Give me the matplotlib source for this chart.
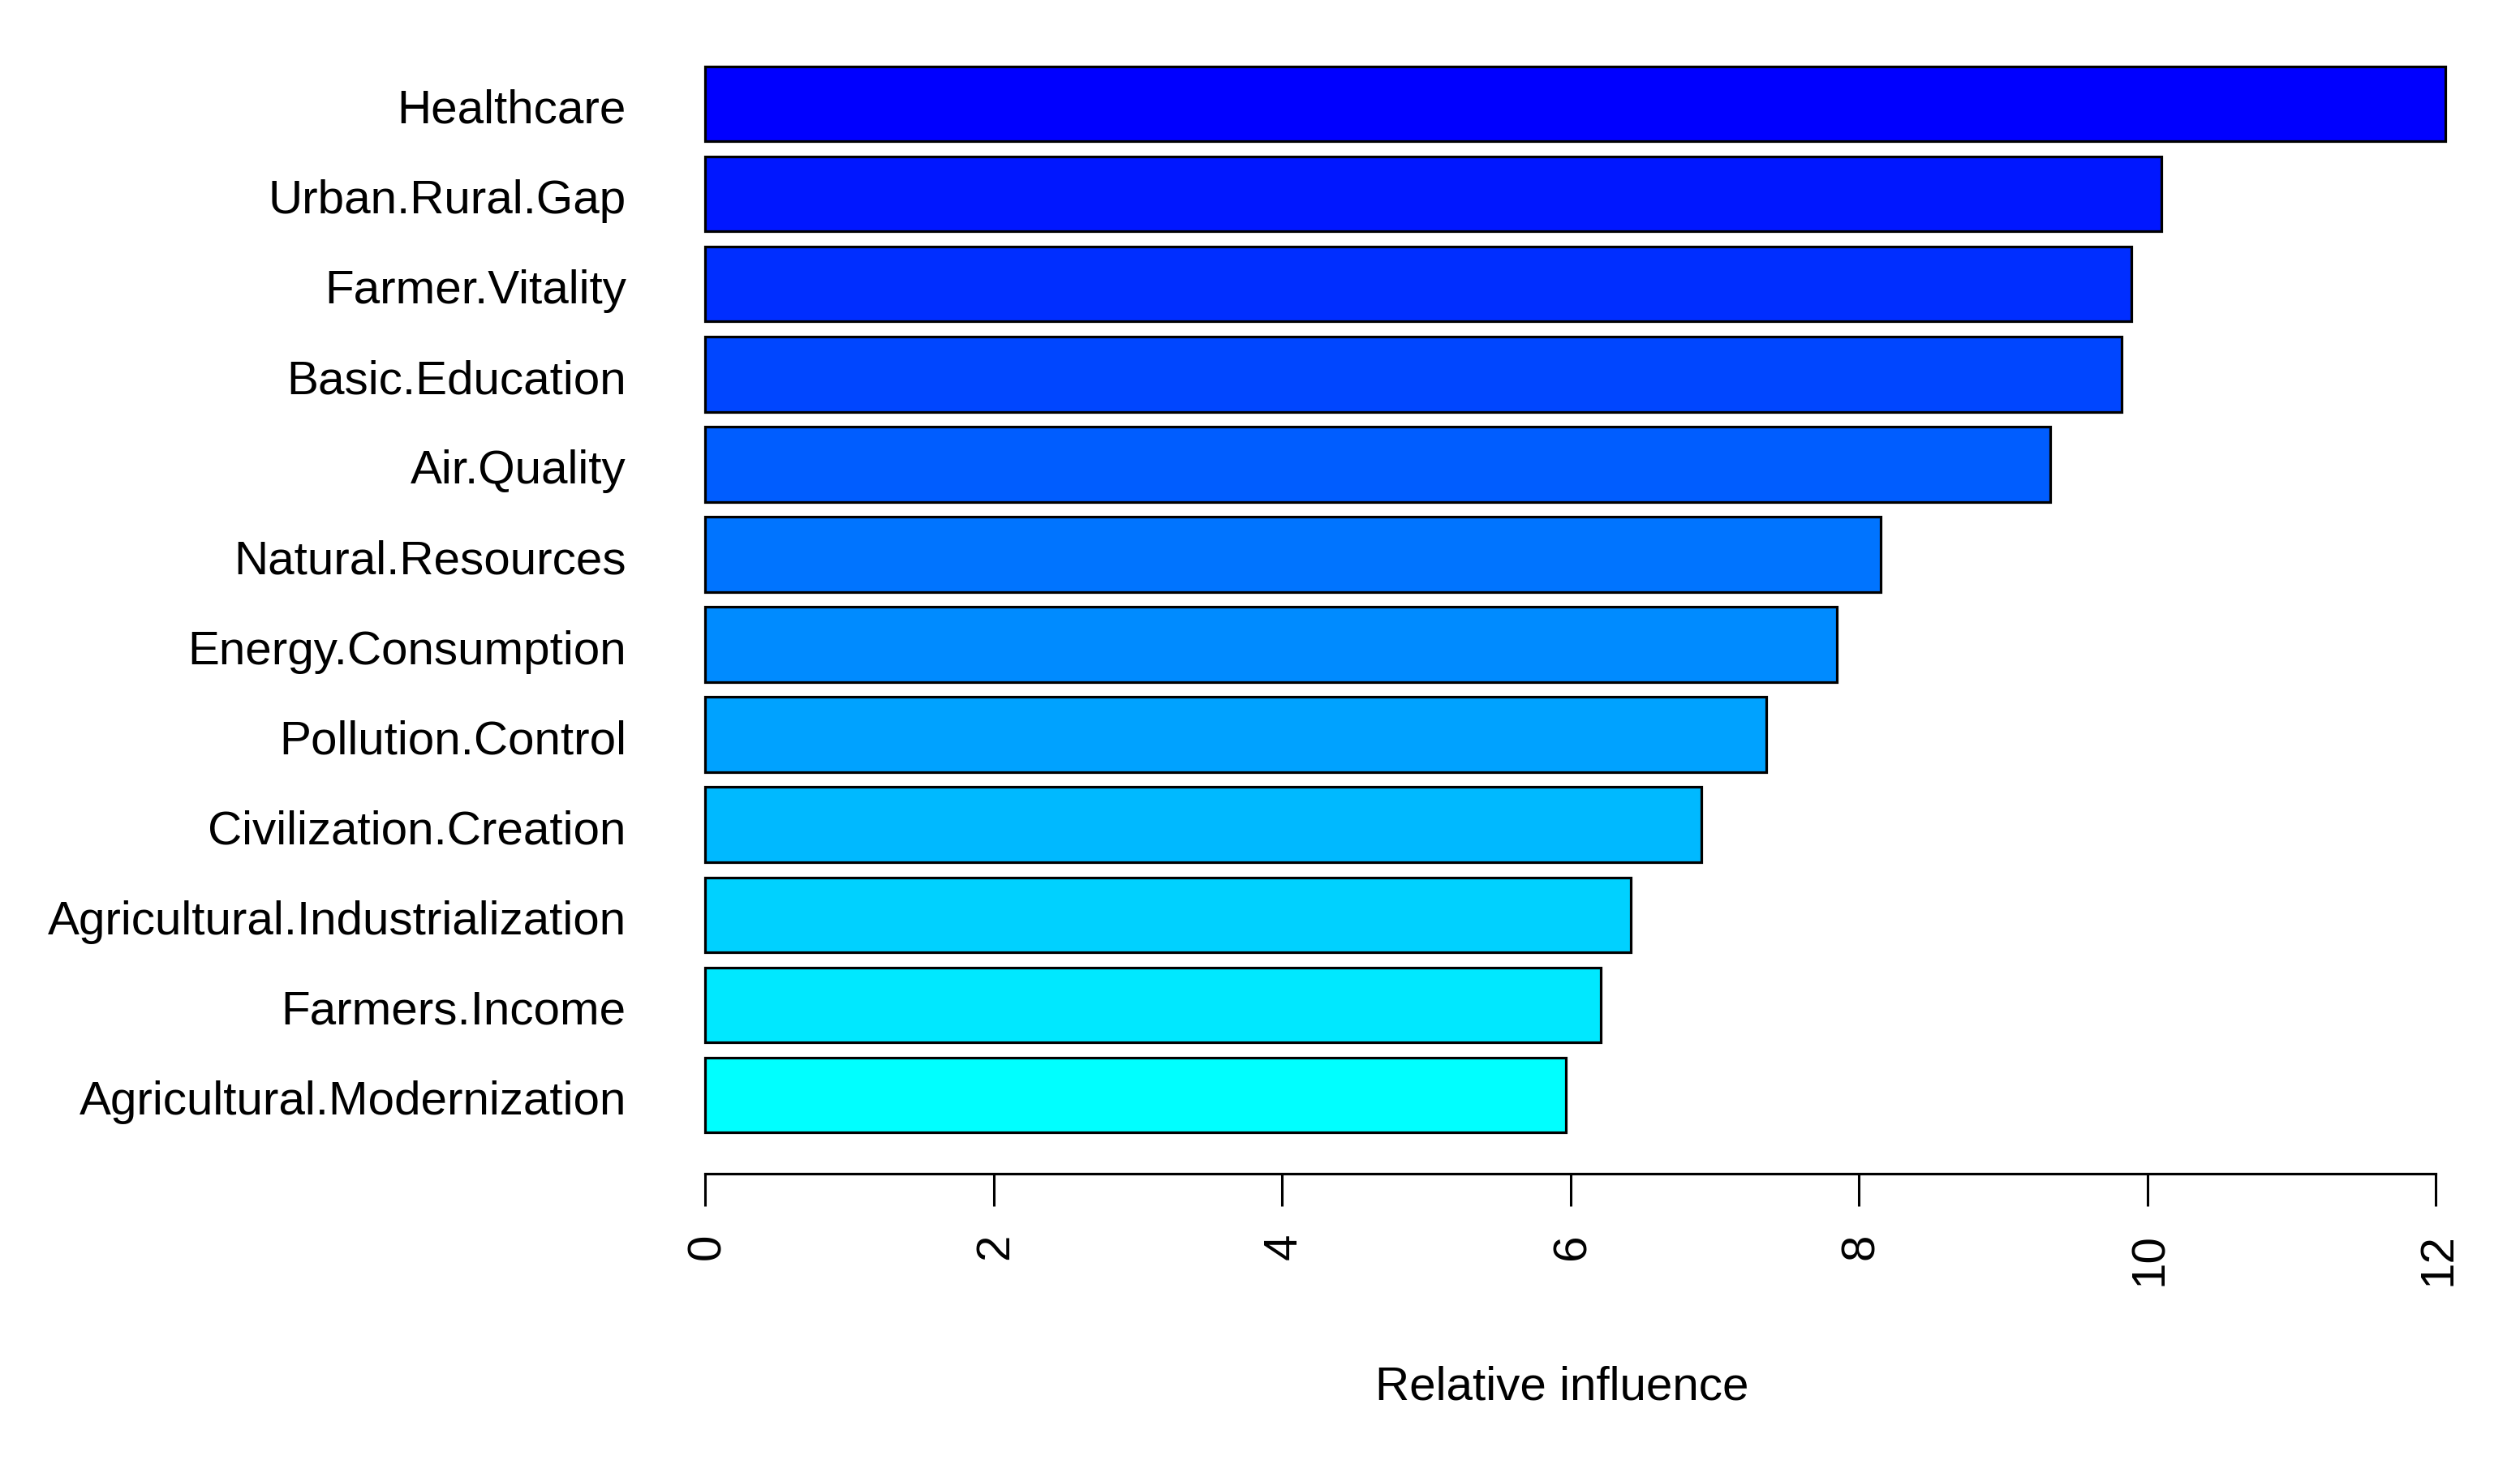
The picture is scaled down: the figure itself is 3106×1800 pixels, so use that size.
import colorsys
import matplotlib
matplotlib.use("Agg")
import matplotlib.pyplot as plt
import matplotlib.transforms as mtransforms
from matplotlib.ticker import FixedLocator

# Data (top to bottom as displayed)
categories = ["Healthcare", "Urban.Rural.Gap", "Farmer.Vitality", "Basic.Education",
              "Air.Quality", "Natural.Resources", "Energy.Consumption", "Pollution.Control",
              "Civilization.Creation", "Agricultural.Industrialization", "Farmers.Income",
              "Agricultural.Modernization"]
rel_influence = [12.07, 10.10, 9.89, 9.82, 9.33, 8.15, 7.85, 7.36, 6.91, 6.42, 6.21, 5.97]
x_ticks = [0, 2, 4, 6, 8, 10, 12]
x_label = "Relative influence"

plt.rcParams['font.family'] = ['Liberation Sans', 'DejaVu Sans']

W, H = 3106, 1800
fig = plt.figure(figsize=(W / 100, H / 100), dpi=100)
fig.patch.set_facecolor("white")

# axes placement in pixels
left_px, right_px, top_px, bottom_px = 869, 3080, 40, 1447
ax = fig.add_axes([left_px / W, 1 - bottom_px / H, (right_px - left_px) / W, (bottom_px - top_px) / H])

n = len(categories)
# R rainbow(n, start=3/6, end=4/6): bottom bar cyan -> top bar blue
hues = [0.5 + (4 / 6 - 0.5) * i / (n - 1) for i in range(n)]
cols_bottom_up = [colorsys.hsv_to_rgb(h, 1, 1) for h in hues]

ypos = [0.7 + 1.2 * i for i in range(n)]  # bottom-up positions
vals_bottom_up = rel_influence[::-1]
labels_bottom_up = categories[::-1]

ax.barh(ypos, vals_bottom_up, height=1.0, color=cols_bottom_up, edgecolor="black",
        linewidth=2.3, clip_on=False)

ax.set_xlim(0, (right_px - left_px) / 177.75)
ax.set_ylim(0.7 - (bottom_px - 1350) / 92.6, 13.9 + (128 - top_px) / 92.6)

for s in ["top", "right", "left"]:
    ax.spines[s].set_visible(False)
ax.spines["bottom"].set_bounds(0, 12)
ax.spines["bottom"].set_linewidth(2.3)
ax.spines["bottom"].set_capstyle("projecting")

ax.xaxis.set_major_locator(FixedLocator(x_ticks))
ax.set_xticklabels([str(t) for t in x_ticks], rotation=90, fontsize=42, va="top", ha="center")
ax.tick_params(axis="x", length=28.8, width=2.2, pad=24, direction="out")
shift_x = mtransforms.ScaledTranslation(3 / 100, 0, fig.dpi_scale_trans)
for lab in ax.get_xticklabels():
    lab.set_transform(lab.get_transform() + shift_x)

ax.set_yticks(ypos)
ax.set_yticklabels(labels_bottom_up, fontsize=42, va="center_baseline")
ax.tick_params(axis="y", length=0, pad=70)
shift_y = mtransforms.ScaledTranslation(0, -3 / 100, fig.dpi_scale_trans)
for lab in ax.get_yticklabels():
    lab.set_transform(lab.get_transform() + shift_y)

fig.text(1925 / W, 1 - 1726 / H, x_label, fontsize=42, ha="center", va="baseline")

fig.savefig("out.png", dpi=100, facecolor="white")
